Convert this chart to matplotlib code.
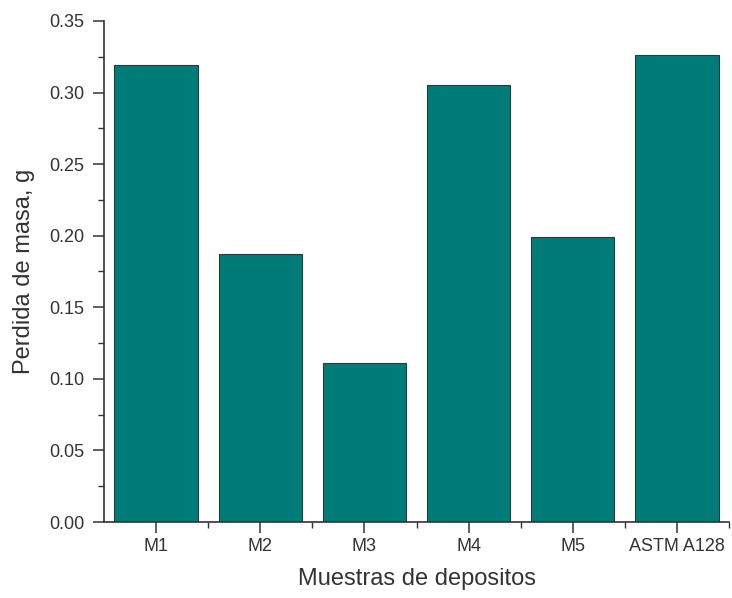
import matplotlib
matplotlib.use('Agg')
import matplotlib.pyplot as plt
from matplotlib.ticker import MultipleLocator, FixedLocator

muestras = ['M1', 'M2', 'M3', 'M4', 'M5', 'ASTM A128']
perdida = [0.319, 0.187, 0.111, 0.305, 0.199, 0.326]

plt.rcParams['font.family'] = ['Liberation Sans', 'DejaVu Sans']

fig = plt.figure(figsize=(7.32, 5.98), dpi=100)
ax = fig.add_axes([0.142, 0.127, 0.854, 0.838])

x = range(len(muestras))
ax.bar(x, perdida, width=0.8, color='#007c78', edgecolor='#1f3f3e', linewidth=0.8)

ax.set_xlim(-0.5, len(muestras) - 0.5)
ax.set_ylim(0, 0.35)
ax.set_xticks(list(x))
ax.set_xticklabels(muestras)
ax.xaxis.set_minor_locator(FixedLocator([i + 0.5 for i in range(len(muestras))]))
ax.yaxis.set_major_locator(MultipleLocator(0.05))
ax.yaxis.set_minor_locator(MultipleLocator(0.025))
ax.yaxis.set_major_formatter(matplotlib.ticker.FormatStrFormatter('%.2f'))

for s in ['top', 'right']:
    ax.spines[s].set_visible(False)
for s in ['left', 'bottom']:
    ax.spines[s].set_color('#333333')
    ax.spines[s].set_linewidth(1.2)

ax.tick_params(axis='both', which='major', direction='out', length=8, width=1.1,
               colors='#333333', labelsize=13)
ax.tick_params(axis='y', which='major', pad=6)
ax.tick_params(axis='both', which='minor', direction='out', length=4, width=1.0,
               colors='#333333')

ax.set_xlabel('Muestras de depositos', fontsize=17, color='#333333', labelpad=9)
ax.set_ylabel('Perdida de masa, g', fontsize=17, color='#333333', labelpad=10)

fig.savefig('out.png', dpi=100)
